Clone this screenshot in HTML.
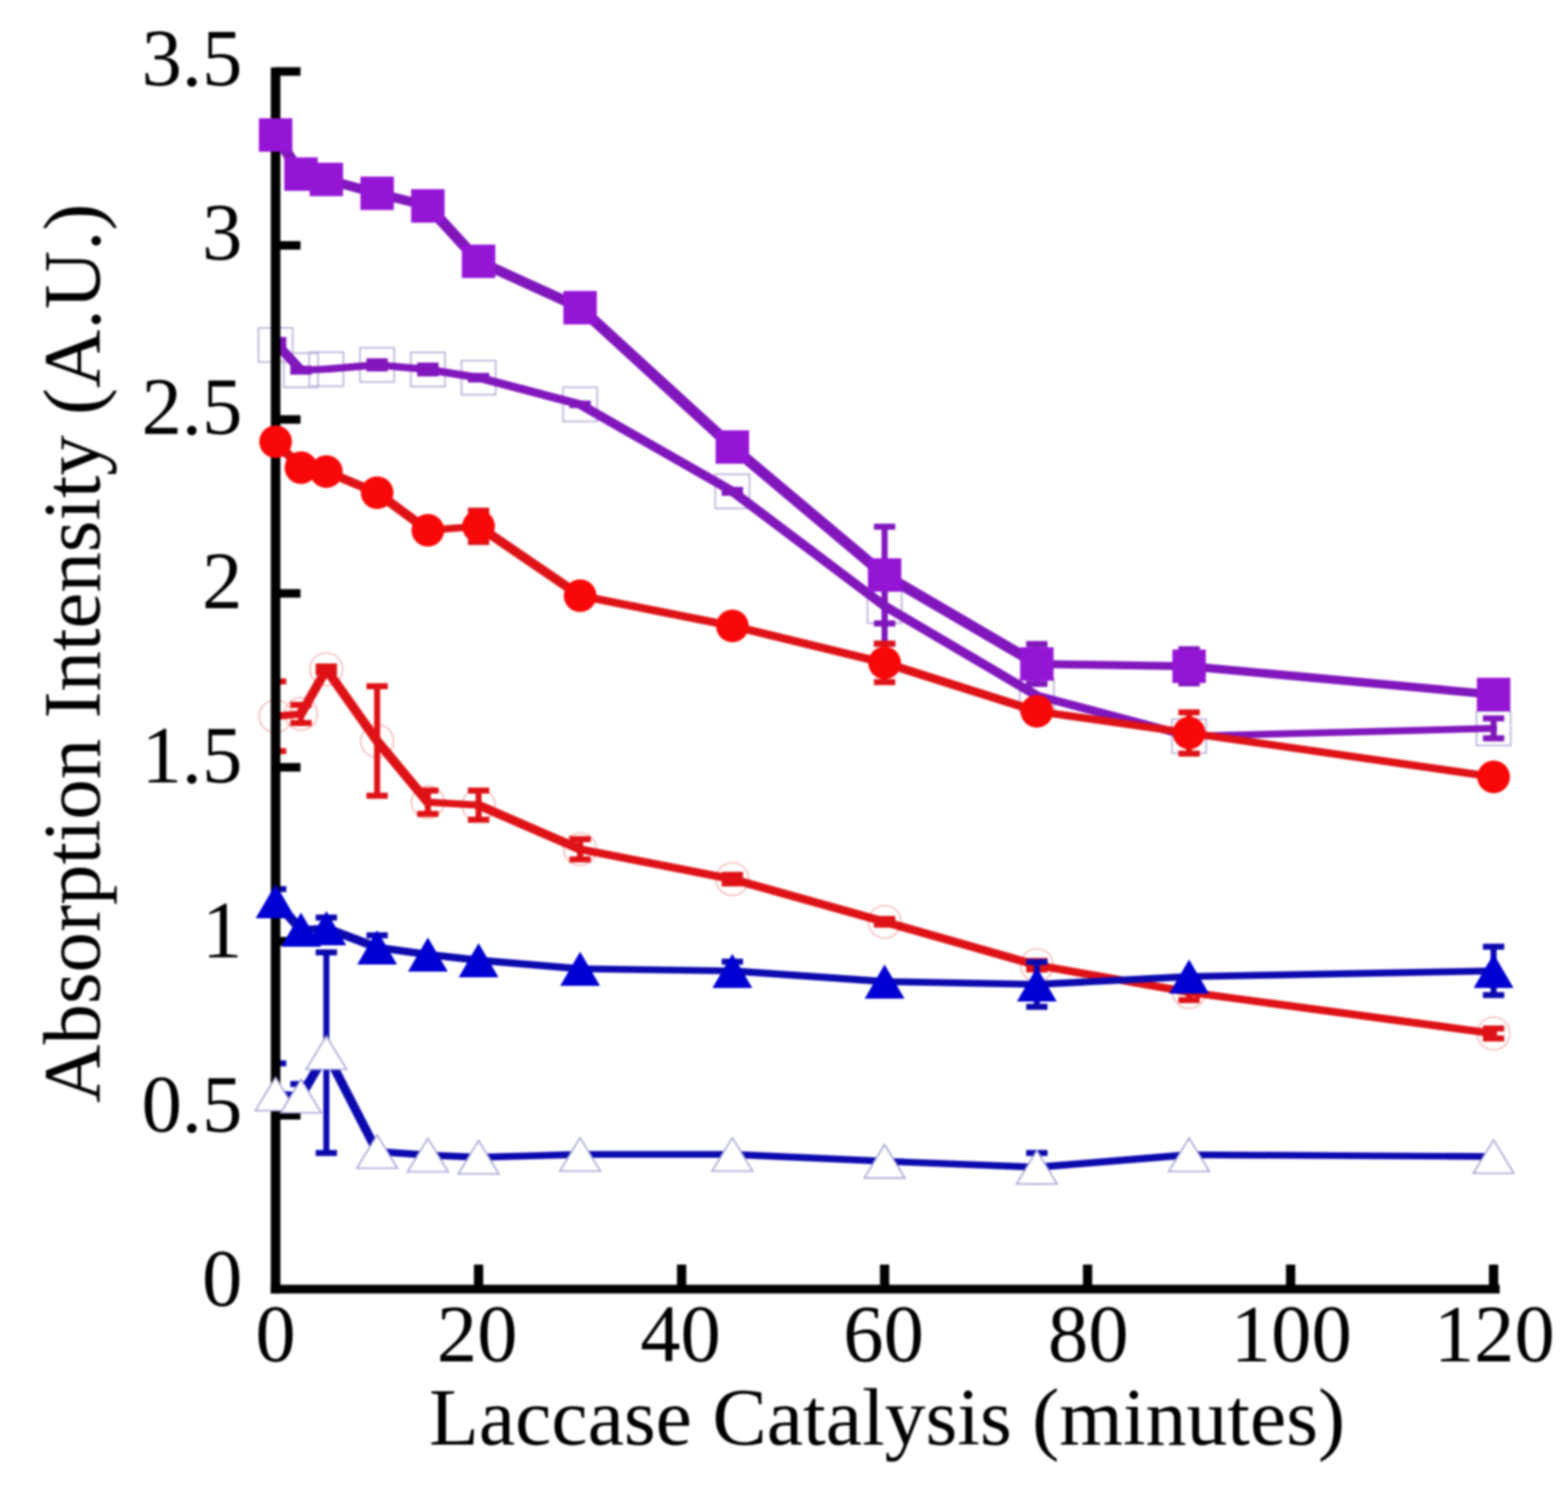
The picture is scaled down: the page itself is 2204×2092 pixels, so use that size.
<!DOCTYPE html>
<html><head><meta charset="utf-8"><title>Absorption Intensity vs Laccase Catalysis</title>
<style>
html,body{margin:0;padding:0;background:#fff;}
body{width:2204px;height:2092px;overflow:hidden;}
svg{display:block;filter:blur(1.5px);}
.t{font-family:"Liberation Serif","Times New Roman",serif;font-size:113.3px;fill:#000;}
.tx{font-family:"Liberation Serif","Times New Roman",serif;font-size:114.8px;fill:#000;}
.ty{font-family:"Liberation Serif","Times New Roman",serif;font-size:113.8px;fill:#000;}
</style></head>
<body>
<svg width="2204" height="2092" viewBox="0 0 2204 2092">
<defs><clipPath id="plot"><rect x="387.4" y="0" width="1816" height="1812"/></clipPath></defs>
<rect width="2204" height="2092" fill="#fff"/>
<text x="340.6" y="1836" text-anchor="end" class="t">0</text>
<text x="340.6" y="1590.8" text-anchor="end" class="t">0.5</text>
<text x="340.6" y="1345.6" text-anchor="end" class="t">1</text>
<text x="340.6" y="1100.4" text-anchor="end" class="t">1.5</text>
<text x="340.6" y="855.2" text-anchor="end" class="t">2</text>
<text x="340.6" y="610" text-anchor="end" class="t">2.5</text>
<text x="340.6" y="364.8" text-anchor="end" class="t">3</text>
<text x="340.6" y="119.6" text-anchor="end" class="t">3.5</text>
<text x="387.4" y="1914" text-anchor="middle" class="t">0</text>
<text x="670.7" y="1914" text-anchor="middle" class="t">20</text>
<text x="956.6" y="1914" text-anchor="middle" class="t">40</text>
<text x="1241.9" y="1914" text-anchor="middle" class="t">60</text>
<text x="1529.7" y="1914" text-anchor="middle" class="t">80</text>
<text x="1815.1" y="1914" text-anchor="middle" class="t">100</text>
<text x="2100.4" y="1914" text-anchor="middle" class="t">120</text>
<text x="603" y="2031" class="tx">Laccase Catalysis (minutes)</text>
<text transform="translate(140 1550.6) rotate(-90)" x="0" y="0" class="ty">Absorption Intensity (A.U.)</text>
<rect x="363.4" y="461" width="48" height="48" fill="none" stroke="#c0b4dc" stroke-width="2.4"/>
<rect x="399.1" y="496.5" width="48" height="48" fill="none" stroke="#c0b4dc" stroke-width="2.4"/>
<rect x="434.7" y="495" width="48" height="48" fill="none" stroke="#c0b4dc" stroke-width="2.4"/>
<rect x="506.1" y="489" width="48" height="48" fill="none" stroke="#c0b4dc" stroke-width="2.4"/>
<rect x="577.4" y="495.5" width="48" height="48" fill="none" stroke="#c0b4dc" stroke-width="2.4"/>
<rect x="648.7" y="507" width="48" height="48" fill="none" stroke="#c0b4dc" stroke-width="2.4"/>
<rect x="791.4" y="544.5" width="48" height="48" fill="none" stroke="#c0b4dc" stroke-width="2.4"/>
<rect x="1005.4" y="666.8" width="48" height="48" fill="none" stroke="#c0b4dc" stroke-width="2.4"/>
<rect x="1219.4" y="828" width="48" height="48" fill="none" stroke="#c0b4dc" stroke-width="2.4"/>
<rect x="1433.4" y="954" width="48" height="48" fill="none" stroke="#c0b4dc" stroke-width="2.4"/>
<rect x="1647.4" y="1011" width="48" height="48" fill="none" stroke="#c0b4dc" stroke-width="2.4"/>
<rect x="2075.4" y="1000" width="48" height="48" fill="none" stroke="#c0b4dc" stroke-width="2.4"/>
<circle cx="387.4" cy="1007" r="23" fill="none" stroke="#f4bcbc" stroke-width="2.2"/>
<circle cx="423.1" cy="1003.7" r="23" fill="none" stroke="#f4bcbc" stroke-width="2.2"/>
<circle cx="458.7" cy="941" r="23" fill="none" stroke="#f4bcbc" stroke-width="2.2"/>
<circle cx="530.1" cy="1041.7" r="23" fill="none" stroke="#f4bcbc" stroke-width="2.2"/>
<circle cx="601.4" cy="1127.8" r="23" fill="none" stroke="#f4bcbc" stroke-width="2.2"/>
<circle cx="672.7" cy="1132" r="23" fill="none" stroke="#f4bcbc" stroke-width="2.2"/>
<circle cx="815.4" cy="1194" r="23" fill="none" stroke="#f4bcbc" stroke-width="2.2"/>
<circle cx="1029.4" cy="1236" r="23" fill="none" stroke="#f4bcbc" stroke-width="2.2"/>
<circle cx="1243.4" cy="1296" r="23" fill="none" stroke="#f4bcbc" stroke-width="2.2"/>
<circle cx="1457.4" cy="1357" r="23" fill="none" stroke="#f4bcbc" stroke-width="2.2"/>
<circle cx="1671.4" cy="1395" r="23" fill="none" stroke="#f4bcbc" stroke-width="2.2"/>
<circle cx="2099.4" cy="1453" r="23" fill="none" stroke="#f4bcbc" stroke-width="2.2"/>
<g clip-path="url(#plot)">
<path d="M382.6,477.2L392.1,477.2L427.8,515.8L427.8,525.2L418.3,525.2L382.6,486.8ZM418.3,515.8L454,514.2L463.5,514.2L463.5,523.8L427.8,525.2L418.3,525.2ZM454,514.2L525.3,508.2L534.8,508.2L534.8,517.8L463.5,523.8L454,523.8ZM525.3,508.2L534.8,508.2L606.1,514.8L606.1,524.2L596.6,524.2L525.3,517.8ZM596.6,514.8L606.1,514.8L677.5,526.2L677.5,535.8L668,535.8L596.6,524.2ZM668,526.2L677.5,526.2L820.1,563.8L820.1,573.2L810.6,573.2L668,535.8ZM810.6,563.8L820.1,563.8L1034.2,686L1034.2,695.5L1024.7,695.5L810.6,573.2ZM1024.7,686L1034.2,686L1248.2,847.2L1248.2,856.8L1238.7,856.8L1024.7,695.5ZM1238.7,847.2L1248.2,847.2L1462.2,973.2L1462.2,982.8L1452.7,982.8L1238.7,856.8ZM1452.7,973.2L1462.2,973.2L1676.2,1030.2L1676.2,1039.8L1666.7,1039.8L1452.7,982.8ZM1666.7,1030.2L2094.7,1019.2L2104.2,1019.2L2104.2,1028.8L1676.2,1039.8L1666.7,1039.8Z" fill="#8016bc" fill-rule="nonzero"/>
<path d="M387.4,478V486M372.4,478H402.4M372.4,486H402.4" stroke="#8016bc" stroke-width="8.5" fill="none"/>
<path d="M423.1,518.5V522.5M408.1,518.5H438.1M408.1,522.5H438.1" stroke="#8016bc" stroke-width="8.5" fill="none"/>
<path d="M530.1,508V518M515.1,508H545.1M515.1,518H545.1" stroke="#8016bc" stroke-width="8.5" fill="none"/>
<path d="M601.4,514V525M586.4,514H616.4M586.4,525H616.4" stroke="#8016bc" stroke-width="8.5" fill="none"/>
<path d="M672.7,528.5V533.5M657.7,528.5H687.7M657.7,533.5H687.7" stroke="#8016bc" stroke-width="8.5" fill="none"/>
<path d="M815.4,567.5V569.5M800.4,567.5H830.4M800.4,569.5H830.4" stroke="#8016bc" stroke-width="8.5" fill="none"/>
<path d="M1029.4,688.8V692.8M1014.4,688.8H1044.4M1014.4,692.8H1044.4" stroke="#8016bc" stroke-width="8.5" fill="none"/>
<path d="M1243.4,799V905M1228.4,799H1258.4M1228.4,905H1258.4" stroke="#8016bc" stroke-width="8.5" fill="none"/>
<path d="M2099.4,1010V1038M2084.4,1010H2114.4M2084.4,1038H2114.4" stroke="#8016bc" stroke-width="8.5" fill="none"/>
<path d="M381.9,184.3L392.9,184.3L428.6,239.3L428.6,250.3L417.6,250.3L381.9,195.3ZM417.6,239.3L428.6,239.3L464.2,246.8L464.2,257.8L453.2,257.8L417.6,250.3ZM453.2,246.8L464.2,246.8L535.6,266.3L535.6,277.3L524.6,277.3L453.2,257.8ZM524.6,266.3L535.6,266.3L606.9,284L606.9,295L595.9,295L524.6,277.3ZM595.9,284L606.9,284L678.2,361.9L678.2,372.9L667.2,372.9L595.9,295ZM667.2,361.9L678.2,361.9L820.9,427.1L820.9,438.1L809.9,438.1L667.2,372.9ZM809.9,427.1L820.9,427.1L1034.9,623L1034.9,634L1023.9,634L809.9,438.1ZM1023.9,623L1034.9,623L1248.9,802.9L1248.9,813.9L1237.9,813.9L1023.9,634ZM1237.9,802.9L1248.9,802.9L1462.9,928L1462.9,939L1451.9,939L1237.9,813.9ZM1451.9,928L1462.9,928L1676.9,931.2L1676.9,942.2L1665.9,942.2L1451.9,939ZM1665.9,931.2L1676.9,931.2L2104.9,970.9L2104.9,981.9L2093.9,981.9L1665.9,942.2Z" fill="#8016bc" fill-rule="nonzero"/>
<path d="M1243.4,740.4V876.4M1228.4,740.4H1258.4M1228.4,876.4H1258.4" stroke="#8016bc" stroke-width="8.5" fill="none"/>
<path d="M1457.4,905.5V961.5M1442.4,905.5H1472.4M1442.4,961.5H1472.4" stroke="#8016bc" stroke-width="8.5" fill="none"/>
<path d="M1671.4,912.7V960.7M1656.4,912.7H1686.4M1656.4,960.7H1686.4" stroke="#8016bc" stroke-width="8.5" fill="none"/>
<path d="M382.6,1002.2L418.3,999L427.8,999L427.8,1008.5L392.1,1011.8L382.6,1011.8ZM418.3,999L454,936.2L463.5,936.2L463.5,945.8L427.8,1008.5L418.3,1008.5ZM454,936.2L463.5,936.2L534.8,1037L534.8,1046.5L525.3,1046.5L454,945.8ZM525.3,1037L534.8,1037L606.1,1123L606.1,1132.5L596.6,1132.5L525.3,1046.5ZM596.6,1123L606.1,1123L677.5,1127.2L677.5,1136.8L668,1136.8L596.6,1132.5ZM668,1127.2L677.5,1127.2L820.1,1189.2L820.1,1198.8L810.6,1198.8L668,1136.8ZM810.6,1189.2L820.1,1189.2L1034.2,1231.2L1034.2,1240.8L1024.7,1240.8L810.6,1198.8ZM1024.7,1231.2L1034.2,1231.2L1248.2,1291.2L1248.2,1300.8L1238.7,1300.8L1024.7,1240.8ZM1238.7,1291.2L1248.2,1291.2L1462.2,1352.2L1462.2,1361.8L1452.7,1361.8L1238.7,1300.8ZM1452.7,1352.2L1462.2,1352.2L1676.2,1390.2L1676.2,1399.8L1666.7,1399.8L1452.7,1361.8ZM1666.7,1390.2L1676.2,1390.2L2104.2,1448.2L2104.2,1457.8L2094.7,1457.8L1666.7,1399.8Z" fill="#de1216" fill-rule="nonzero"/>
<path d="M387.4,958V1056M372.4,958H402.4M372.4,1056H402.4" stroke="#de1216" stroke-width="8.5" fill="none"/>
<path d="M423.1,991V1016.4M408.1,991H438.1M408.1,1016.4H438.1" stroke="#de1216" stroke-width="8.5" fill="none"/>
<path d="M458.7,937V945M443.7,937H473.7M443.7,945H473.7" stroke="#de1216" stroke-width="8.5" fill="none"/>
<path d="M530.1,964.7V1118.7M515.1,964.7H545.1M515.1,1118.7H545.1" stroke="#de1216" stroke-width="8.5" fill="none"/>
<path d="M601.4,1111.4V1144.2M586.4,1111.4H616.4M586.4,1144.2H616.4" stroke="#de1216" stroke-width="8.5" fill="none"/>
<path d="M672.7,1111.5V1152.5M657.7,1111.5H687.7M657.7,1152.5H687.7" stroke="#de1216" stroke-width="8.5" fill="none"/>
<path d="M815.4,1179.7V1208.3M800.4,1179.7H830.4M800.4,1208.3H830.4" stroke="#de1216" stroke-width="8.5" fill="none"/>
<path d="M1029.4,1230V1242M1014.4,1230H1044.4M1014.4,1242H1044.4" stroke="#de1216" stroke-width="8.5" fill="none"/>
<path d="M1243.4,1292V1300M1228.4,1292H1258.4M1228.4,1300H1258.4" stroke="#de1216" stroke-width="8.5" fill="none"/>
<path d="M1457.4,1351V1363M1442.4,1351H1472.4M1442.4,1363H1472.4" stroke="#de1216" stroke-width="8.5" fill="none"/>
<path d="M1671.4,1384V1406M1656.4,1384H1686.4M1656.4,1406H1686.4" stroke="#de1216" stroke-width="8.5" fill="none"/>
<path d="M2099.4,1446V1460M2084.4,1446H2114.4M2084.4,1460H2114.4" stroke="#de1216" stroke-width="8.5" fill="none"/>
<path d="M382.6,616.2L392.1,616.2L427.8,652.8L427.8,662.2L418.3,662.2L382.6,625.8ZM418.3,652.8L427.8,652.8L463.5,658.2L463.5,667.8L454,667.8L418.3,662.2ZM454,658.2L463.5,658.2L534.8,688L534.8,697.5L525.3,697.5L454,667.8ZM525.3,688L534.8,688L606.1,740.8L606.1,750.2L596.6,750.2L525.3,697.5ZM596.6,740.8L668,735.2L677.5,735.2L677.5,744.8L606.1,750.2L596.6,750.2ZM668,735.2L677.5,735.2L820.1,832.8L820.1,842.2L810.6,842.2L668,744.8ZM810.6,832.8L820.1,832.8L1034.2,875.2L1034.2,884.8L1024.7,884.8L810.6,842.2ZM1024.7,875.2L1034.2,875.2L1248.2,927.2L1248.2,936.8L1238.7,936.8L1024.7,884.8ZM1238.7,927.2L1248.2,927.2L1462.2,995.2L1462.2,1004.8L1452.7,1004.8L1238.7,936.8ZM1452.7,995.2L1462.2,995.2L1676.2,1025.8L1676.2,1035.2L1666.7,1035.2L1452.7,1004.8ZM1666.7,1025.8L1676.2,1025.8L2104.2,1087.5L2104.2,1097L2094.7,1097L1666.7,1035.2Z" fill="#de1216" fill-rule="nonzero"/>
<path d="M672.7,718V762M657.7,718H687.7M657.7,762H687.7" stroke="#de1216" stroke-width="8.5" fill="none"/>
<path d="M1243.4,905V959M1228.4,905H1258.4M1228.4,959H1258.4" stroke="#de1216" stroke-width="8.5" fill="none"/>
<path d="M1671.4,1001.5V1059.5M1656.4,1001.5H1686.4M1656.4,1059.5H1686.4" stroke="#de1216" stroke-width="8.5" fill="none"/>
<path d="M382.8,1262.3L392.1,1262.3L427.7,1302.3L427.7,1311.7L418.4,1311.7L382.8,1271.7ZM418.4,1302.3L454.1,1300.3L463.4,1300.3L463.4,1309.7L427.7,1311.7L418.4,1311.7ZM454.1,1300.3L463.4,1300.3L534.7,1327.3L534.7,1336.7L525.4,1336.7L454.1,1309.7ZM525.4,1327.3L534.7,1327.3L606,1337.3L606,1346.7L596.8,1346.7L525.4,1336.7ZM596.8,1337.3L606,1337.3L677.4,1345.3L677.4,1354.7L668.1,1354.7L596.8,1346.7ZM668.1,1345.3L677.4,1345.3L820,1357.3L820,1366.7L810.8,1366.7L668.1,1354.7ZM810.8,1357.3L820,1357.3L1034,1360.3L1034,1369.7L1024.8,1369.7L810.8,1366.7ZM1024.8,1360.3L1034,1360.3L1248,1375.3L1248,1384.7L1238.8,1384.7L1024.8,1369.7ZM1238.8,1375.3L1248,1375.3L1462,1379.3L1462,1388.7L1452.8,1388.7L1238.8,1384.7ZM1452.8,1379.3L1666.8,1368.3L1676,1368.3L1676,1377.7L1462,1388.7L1452.8,1388.7ZM1666.8,1368.3L2094.8,1360.3L2104.1,1360.3L2104.1,1369.7L1676,1377.7L1666.8,1377.7Z" fill="#0c0aae" fill-rule="nonzero"/>
<path d="M387.4,1250V1284M372.4,1250H402.4M372.4,1284H402.4" stroke="#0c0aae" stroke-width="8.5" fill="none"/>
<path d="M458.7,1290V1320M443.7,1290H473.7M443.7,1320H473.7" stroke="#0c0aae" stroke-width="8.5" fill="none"/>
<path d="M530.1,1315V1349M515.1,1315H545.1M515.1,1349H545.1" stroke="#0c0aae" stroke-width="8.5" fill="none"/>
<path d="M1029.4,1352V1378M1014.4,1352H1044.4M1014.4,1378H1044.4" stroke="#0c0aae" stroke-width="8.5" fill="none"/>
<path d="M1457.4,1352.5V1415.5M1442.4,1352.5H1472.4M1442.4,1415.5H1472.4" stroke="#0c0aae" stroke-width="8.5" fill="none"/>
<path d="M2099.4,1331V1399M2084.4,1331H2114.4M2084.4,1399H2114.4" stroke="#0c0aae" stroke-width="8.5" fill="none"/>
<path d="M382.8,1533.3L392.1,1533.3L427.7,1536.3L427.7,1545.7L418.4,1545.7L382.8,1542.7ZM418.4,1536.3L454.1,1475.3L463.4,1475.3L463.4,1484.7L427.7,1545.7L418.4,1545.7ZM454.1,1475.3L463.4,1475.3L534.7,1614.3L534.7,1623.7L525.4,1623.7L454.1,1484.7ZM525.4,1614.3L534.7,1614.3L606,1619.3L606,1628.7L596.8,1628.7L525.4,1623.7ZM596.8,1619.3L606,1619.3L677.4,1622.3L677.4,1631.7L668.1,1631.7L596.8,1628.7ZM668.1,1622.3L810.8,1618.3L820,1618.3L820,1627.7L677.4,1631.7L668.1,1631.7ZM810.8,1618.3L1034,1618.3L1034,1627.7L810.8,1627.7ZM1024.8,1618.3L1034,1618.3L1248,1628L1248,1637.2L1238.8,1637.2L1024.8,1627.7ZM1238.8,1628L1248,1628L1462,1636.3L1462,1645.7L1452.8,1645.7L1238.8,1637.2ZM1452.8,1636.3L1666.8,1618.8L1676,1618.8L1676,1628.2L1462,1645.7L1452.8,1645.7ZM1666.8,1618.8L1676,1618.8L2104.1,1621.3L2104.1,1630.7L2094.8,1630.7L1666.8,1628.2Z" fill="#0c0aae" fill-rule="nonzero"/>
<path d="M387.4,1495V1568M372.4,1495H402.4M372.4,1568H402.4" stroke="#0c0aae" stroke-width="8.5" fill="none"/>
<path d="M423.1,1524V1558M408.1,1524H438.1M408.1,1558H438.1" stroke="#0c0aae" stroke-width="8.5" fill="none"/>
<path d="M458.7,1339V1621M443.7,1339H473.7M443.7,1621H473.7" stroke="#0c0aae" stroke-width="8.5" fill="none"/>
<path d="M1457.4,1621V1661M1442.4,1621H1472.4M1442.4,1661H1472.4" stroke="#0c0aae" stroke-width="8.5" fill="none"/>
</g>
<line x1="387.4" y1="94.8" x2="387.4" y2="1818.6" stroke="#000" stroke-width="13.5"/>
<line x1="380.6" y1="1812.4" x2="2108" y2="1812.4" stroke="#000" stroke-width="12.4"/>
<line x1="387" y1="1567.9" x2="422.4" y2="1567.9" stroke="#000" stroke-width="12"/>
<line x1="387" y1="1323.3" x2="422.4" y2="1323.3" stroke="#000" stroke-width="12"/>
<line x1="387" y1="1078.8" x2="422.4" y2="1078.8" stroke="#000" stroke-width="12"/>
<line x1="387" y1="834.2" x2="422.4" y2="834.2" stroke="#000" stroke-width="12"/>
<line x1="387" y1="589.7" x2="422.4" y2="589.7" stroke="#000" stroke-width="12"/>
<line x1="387" y1="345.1" x2="422.4" y2="345.1" stroke="#000" stroke-width="12"/>
<line x1="387" y1="100.5" x2="422.4" y2="100.5" stroke="#000" stroke-width="12"/>
<line x1="672.7" y1="1777.9" x2="672.7" y2="1812" stroke="#000" stroke-width="13"/>
<line x1="958.1" y1="1777.9" x2="958.1" y2="1812" stroke="#000" stroke-width="13"/>
<line x1="1243.4" y1="1777.9" x2="1243.4" y2="1812" stroke="#000" stroke-width="13"/>
<line x1="1528.7" y1="1777.9" x2="1528.7" y2="1812" stroke="#000" stroke-width="13"/>
<line x1="1814.1" y1="1777.9" x2="1814.1" y2="1812" stroke="#000" stroke-width="13"/>
<line x1="2099.4" y1="1777.9" x2="2099.4" y2="1812" stroke="#000" stroke-width="13"/>
<rect x="363.9" y="166.3" width="47" height="47" fill="#9515d5"/>
<rect x="399.6" y="221.3" width="47" height="47" fill="#9515d5"/>
<rect x="435.2" y="228.8" width="47" height="47" fill="#9515d5"/>
<rect x="506.6" y="248.3" width="47" height="47" fill="#9515d5"/>
<rect x="577.9" y="266" width="47" height="47" fill="#9515d5"/>
<rect x="649.2" y="343.9" width="47" height="47" fill="#9515d5"/>
<rect x="791.9" y="409.1" width="47" height="47" fill="#9515d5"/>
<rect x="1005.9" y="605" width="47" height="47" fill="#9515d5"/>
<rect x="1219.9" y="784.9" width="47" height="47" fill="#9515d5"/>
<rect x="1433.9" y="910" width="47" height="47" fill="#9515d5"/>
<rect x="1647.9" y="913.2" width="47" height="47" fill="#9515d5"/>
<rect x="2075.9" y="952.9" width="47" height="47" fill="#9515d5"/>
<circle cx="387.4" cy="621" r="23" fill="#f80808"/>
<circle cx="423.1" cy="657.5" r="23" fill="#f80808"/>
<circle cx="458.7" cy="663" r="23" fill="#f80808"/>
<circle cx="530.1" cy="692.8" r="23" fill="#f80808"/>
<circle cx="601.4" cy="745.5" r="23" fill="#f80808"/>
<circle cx="672.7" cy="740" r="23" fill="#f80808"/>
<circle cx="815.4" cy="837.5" r="23" fill="#f80808"/>
<circle cx="1029.4" cy="880" r="23" fill="#f80808"/>
<circle cx="1243.4" cy="932" r="23" fill="#f80808"/>
<circle cx="1457.4" cy="1000" r="23" fill="#f80808"/>
<circle cx="1671.4" cy="1030.5" r="23" fill="#f80808"/>
<circle cx="2099.4" cy="1092.3" r="23" fill="#f80808"/>
<polygon points="387.4,1243 359.4,1291 415.4,1291" fill="#0000d2"/>
<polygon points="423.1,1283 395.1,1331 451.1,1331" fill="#0000d2"/>
<polygon points="458.7,1281 430.7,1329 486.7,1329" fill="#0000d2"/>
<polygon points="530.1,1308 502.1,1356 558.1,1356" fill="#0000d2"/>
<polygon points="601.4,1318 573.4,1366 629.4,1366" fill="#0000d2"/>
<polygon points="672.7,1326 644.7,1374 700.7,1374" fill="#0000d2"/>
<polygon points="815.4,1338 787.4,1386 843.4,1386" fill="#0000d2"/>
<polygon points="1029.4,1341 1001.4,1389 1057.4,1389" fill="#0000d2"/>
<polygon points="1243.4,1356 1215.4,1404 1271.4,1404" fill="#0000d2"/>
<polygon points="1457.4,1360 1429.4,1408 1485.4,1408" fill="#0000d2"/>
<polygon points="1671.4,1349 1643.4,1397 1699.4,1397" fill="#0000d2"/>
<polygon points="2099.4,1341 2071.4,1389 2127.4,1389" fill="#0000d2"/>
<polygon points="387.4,1514.5 358.9,1561.5 415.9,1561.5" fill="#fff" stroke="#a4a4d4" stroke-width="2.2" stroke-linejoin="miter"/>
<polygon points="423.1,1517.5 394.6,1564.5 451.6,1564.5" fill="#fff" stroke="#a4a4d4" stroke-width="2.2" stroke-linejoin="miter"/>
<polygon points="458.7,1456.5 430.2,1503.5 487.2,1503.5" fill="#fff" stroke="#a4a4d4" stroke-width="2.2" stroke-linejoin="miter"/>
<polygon points="530.1,1595.5 501.6,1642.5 558.6,1642.5" fill="#fff" stroke="#a4a4d4" stroke-width="2.2" stroke-linejoin="miter"/>
<polygon points="601.4,1600.5 572.9,1647.5 629.9,1647.5" fill="#fff" stroke="#a4a4d4" stroke-width="2.2" stroke-linejoin="miter"/>
<polygon points="672.7,1603.5 644.2,1650.5 701.2,1650.5" fill="#fff" stroke="#a4a4d4" stroke-width="2.2" stroke-linejoin="miter"/>
<polygon points="815.4,1599.5 786.9,1646.5 843.9,1646.5" fill="#fff" stroke="#a4a4d4" stroke-width="2.2" stroke-linejoin="miter"/>
<polygon points="1029.4,1599.5 1000.9,1646.5 1057.9,1646.5" fill="#fff" stroke="#a4a4d4" stroke-width="2.2" stroke-linejoin="miter"/>
<polygon points="1243.4,1609.1 1214.9,1656.1 1271.9,1656.1" fill="#fff" stroke="#a4a4d4" stroke-width="2.2" stroke-linejoin="miter"/>
<polygon points="1457.4,1617.5 1428.9,1664.5 1485.9,1664.5" fill="#fff" stroke="#a4a4d4" stroke-width="2.2" stroke-linejoin="miter"/>
<polygon points="1671.4,1600 1642.9,1647 1699.9,1647" fill="#fff" stroke="#a4a4d4" stroke-width="2.2" stroke-linejoin="miter"/>
<polygon points="2099.4,1602.5 2070.9,1649.5 2127.9,1649.5" fill="#fff" stroke="#a4a4d4" stroke-width="2.2" stroke-linejoin="miter"/>
</svg>
</body></html>
